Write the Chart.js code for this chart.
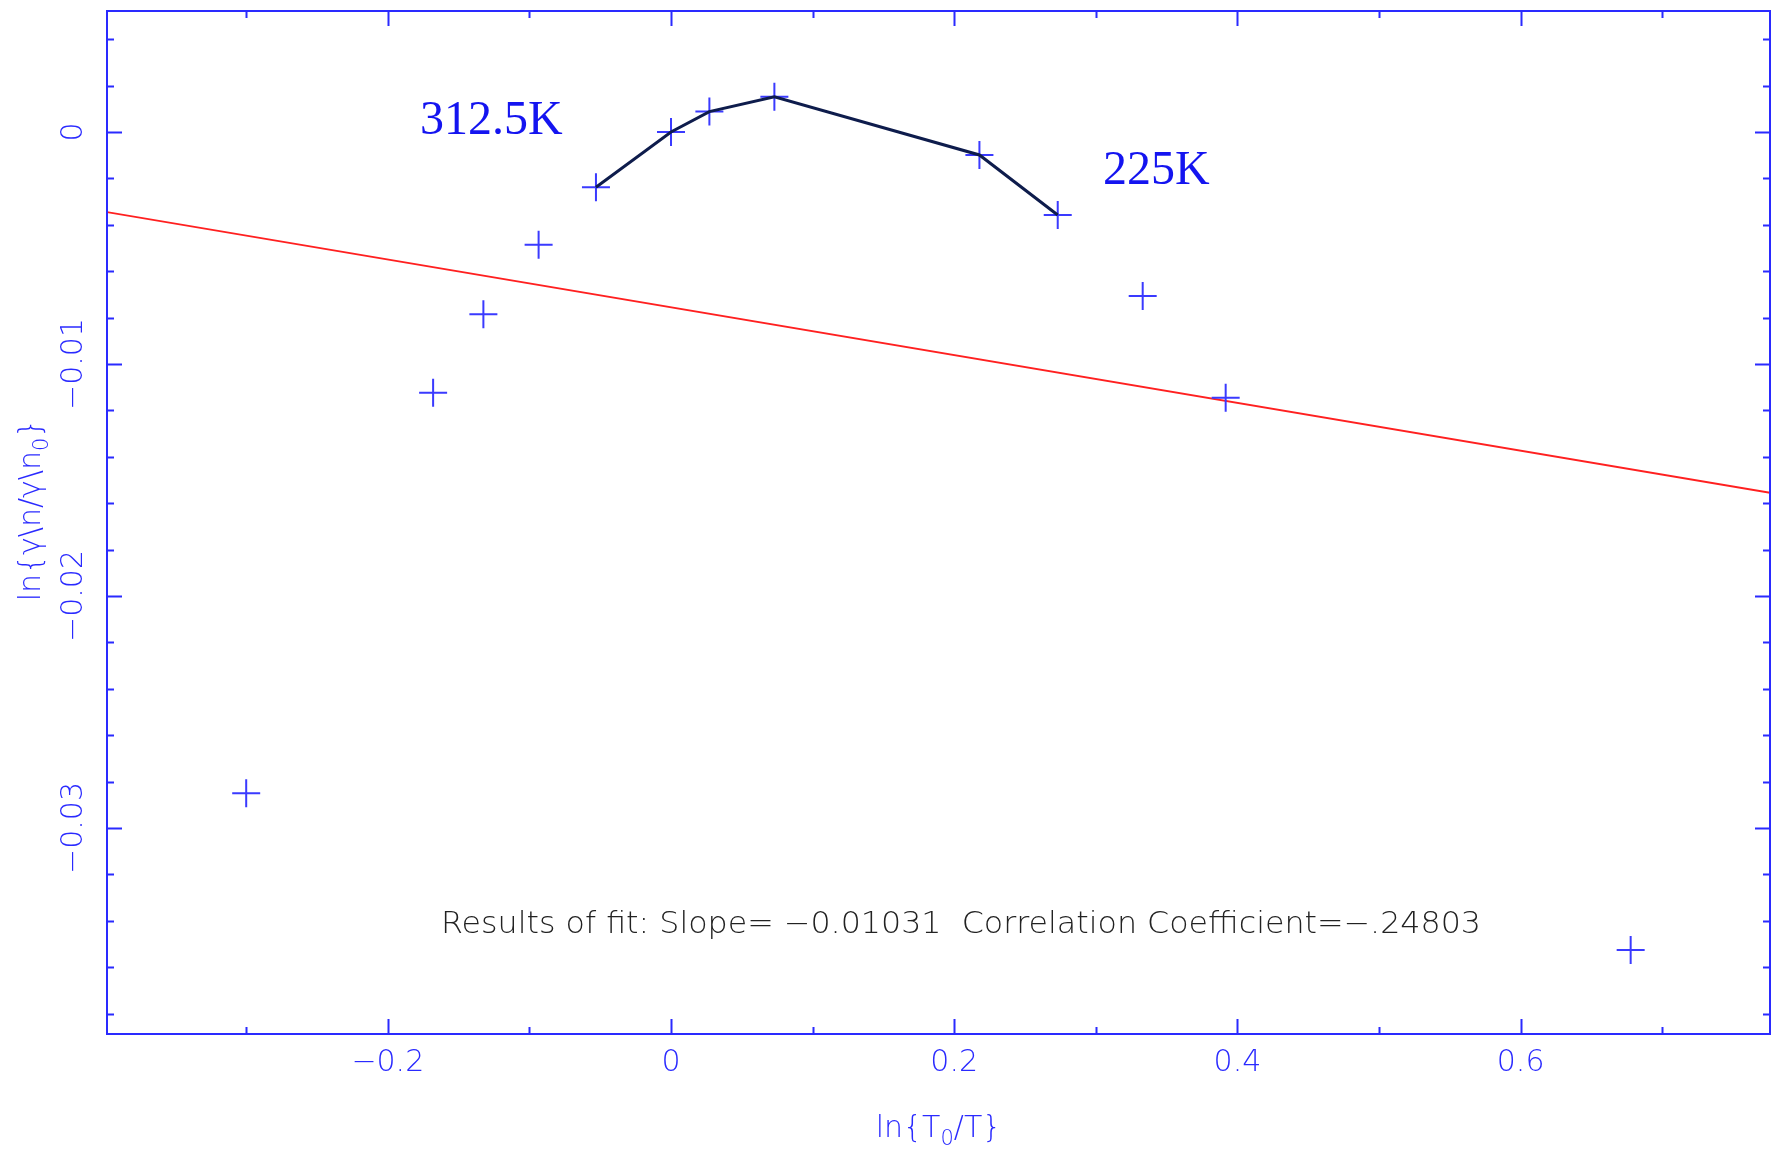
<!DOCTYPE html>
<html>
<head>
<meta charset="utf-8">
<title>ln(T0/T) fit</title>
<script src="https://cdn.jsdelivr.net/npm/chart.js@4.4.1/dist/chart.umd.min.js"></script>
<style>
  html, body { margin: 0; padding: 0; background: #fff; overflow: hidden; }
  #wrap { width: 1772px; height: 1156px; }
  canvas { display: block; }
</style>
</head>
<body>
<div id="wrap"><canvas id="fitChart" width="1772" height="1156"></canvas></div>
<script>
// measured points: x = ln(T0/T), y = ln(gamma n / gamma n0)
const lnTemp  = [-0.3000, -0.1680, -0.1325, -0.0935, -0.0530, 0.0000, 0.0271, 0.0730, 0.2178, 0.2731, 0.3331, 0.3917, 0.6777];
const lnGamma = [-0.02850, -0.01124, -0.00786, -0.00486, -0.00238, 0.00000, 0.00088, 0.00152, -0.00099, -0.00358, -0.00707, -0.01145, -0.03526];

// points joined by the dark curve (312.5K ... 225K)
const curveFrom = 4;
const curveTo = 9;

// least squares fit line, ends at the axis limits
const fitX = [-0.3983, 0.7761];
const fitY = [-0.00345, -0.01555];

const xMin = -0.3983, xMax = 0.7761;
const yMin = -0.03888, yMax = 0.005216;

const xTickValues = [-0.2, 0, 0.2, 0.4, 0.6];
const xTickLabels = ['\u22120.2', '0', '0.2', '0.4', '0.6'];
const yTickValues = [0, -0.01, -0.02, -0.03];
const yTickLabels = ['0', '\u22120.01', '\u22120.02', '\u22120.03'];
const xMinorStep = 0.1;
const yMinorStep = 0.002;

const fitText = 'Results of fit: Slope= \u22120.01031  Correlation Coefficient=\u2212.24803';

const AXIS_BLUE = '#2a2aff';
const LABEL_FONT = '300 30px "DejaVu Sans", sans-serif';
const SUB_FONT = '300 21px "DejaVu Sans", sans-serif';

const points = lnTemp.map((x, i) => ({ x: x, y: lnGamma[i] }));
const curve = points.slice(curveFrom, curveTo + 1);
const fit = fitX.map((x, i) => ({ x: x, y: fitY[i] }));

// write a string with one subscript part, starting at (x, y)
function drawSubText(ctx, parts, x, y) {
  let cx = x;
  parts.forEach(p => {
    ctx.font = p.sub ? SUB_FONT : LABEL_FONT;
    ctx.fillText(p.t, cx, y + (p.sub ? 8 : 0));
    cx += ctx.measureText(p.t).width;
  });
}
function subTextWidth(ctx, parts) {
  let w = 0;
  parts.forEach(p => {
    ctx.font = p.sub ? SUB_FONT : LABEL_FONT;
    w += ctx.measureText(p.t).width;
  });
  return w;
}

const frameAndText = {
  id: 'frameAndText',
  afterDraw(chart) {
    const ctx = chart.ctx;
    const xs = chart.scales.x, ys = chart.scales.y;
    const a = chart.chartArea;
    ctx.save();

    // box
    ctx.strokeStyle = AXIS_BLUE;
    ctx.lineWidth = 2;
    ctx.strokeRect(a.left, a.top, a.right - a.left, a.bottom - a.top);

    // inward ticks on all four sides
    ctx.beginPath();
    for (let k = Math.ceil(xMin / xMinorStep); k * xMinorStep <= xMax; k++) {
      const px = Math.round(xs.getPixelForValue(k * xMinorStep)) + 0.5;
      const len = (k % 2 === 0) ? 15 : 7;
      ctx.moveTo(px, a.bottom); ctx.lineTo(px, a.bottom - len);
      ctx.moveTo(px, a.top); ctx.lineTo(px, a.top + len);
    }
    for (let k = Math.ceil(yMin / yMinorStep); k * yMinorStep <= yMax; k++) {
      const py = Math.round(ys.getPixelForValue(k * yMinorStep)) + 0.5;
      const len = (k % 5 === 0) ? 15 : 7;
      ctx.moveTo(a.left, py); ctx.lineTo(a.left + len, py);
      ctx.moveTo(a.right, py); ctx.lineTo(a.right - len, py);
    }
    ctx.stroke();

    // tick labels
    ctx.fillStyle = AXIS_BLUE;
    ctx.font = LABEL_FONT;
    ctx.textAlign = 'center';
    ctx.textBaseline = 'middle';
    xTickValues.forEach((v, i) => {
      ctx.fillText(xTickLabels[i], xs.getPixelForValue(v), 1063);
    });
    yTickValues.forEach((v, i) => {
      ctx.save();
      ctx.translate(74, ys.getPixelForValue(v));
      ctx.rotate(-Math.PI / 2);
      ctx.fillText(yTickLabels[i], 0, 0);
      ctx.restore();
    });

    // axis titles
    ctx.textAlign = 'left';
    ctx.textBaseline = 'alphabetic';
    const xTitle = [{ t: 'ln{T' }, { t: '0', sub: true }, { t: '/T}' }];
    const xw = subTextWidth(ctx, xTitle);
    drawSubText(ctx, xTitle, (a.left + a.right) / 2 - xw / 2, 1137);

    const yTitle = [{ t: 'ln{\u03b3\\n/\u03b3\\n' }, { t: '0', sub: true }, { t: '}' }];
    const yw = subTextWidth(ctx, yTitle);
    ctx.save();
    ctx.translate(40, 510);
    ctx.rotate(-Math.PI / 2);
    drawSubText(ctx, yTitle, -yw / 2, 0);
    ctx.restore();

    // fit summary
    ctx.fillStyle = '#222';
    ctx.font = LABEL_FONT;
    const fw = ctx.measureText(fitText).width;
    ctx.save();
    ctx.translate(441, 933);
    ctx.scale(1040 / fw, 1);
    ctx.fillText(fitText, 0, 0);
    ctx.restore();

    // temperature marks at the ends of the curve
    ctx.fillStyle = '#1414f0';
    ctx.font = '48px "Liberation Serif", "Times New Roman", serif';
    ctx.fillText('312.5K', 420, 134);
    ctx.fillText('225K', 1103, 184);

    ctx.restore();
  }
};

new Chart(document.getElementById('fitChart'), {
  type: 'scatter',
  data: {
    datasets: [
      {
        label: 'curve',
        type: 'line',
        data: curve,
        borderColor: '#0e1c4c',
        borderWidth: 3,
        pointRadius: 0,
        tension: 0,
        fill: false,
        order: 0
      },
      {
        label: 'data',
        data: points,
        pointStyle: 'cross',
        pointRadius: 14,
        pointHoverRadius: 14,
        pointBorderWidth: 2,
        borderColor: '#3a3aff',
        backgroundColor: '#3a3aff',
        order: 1
      },
      {
        label: 'fit',
        type: 'line',
        data: fit,
        borderColor: '#ff2020',
        borderWidth: 1.8,
        pointRadius: 0,
        tension: 0,
        fill: false,
        order: 2
      }
    ]
  },
  options: {
    responsive: false,
    animation: false,
    events: [],
    layout: {
      autoPadding: false,
      padding: { left: 107, right: 2, top: 11, bottom: 122 }
    },
    plugins: {
      legend: { display: false },
      tooltip: { enabled: false }
    },
    scales: {
      x: { type: 'linear', min: xMin, max: xMax, display: false },
      y: { type: 'linear', min: yMin, max: yMax, display: false }
    }
  },
  plugins: [frameAndText]
});
</script>
</body>
</html>
